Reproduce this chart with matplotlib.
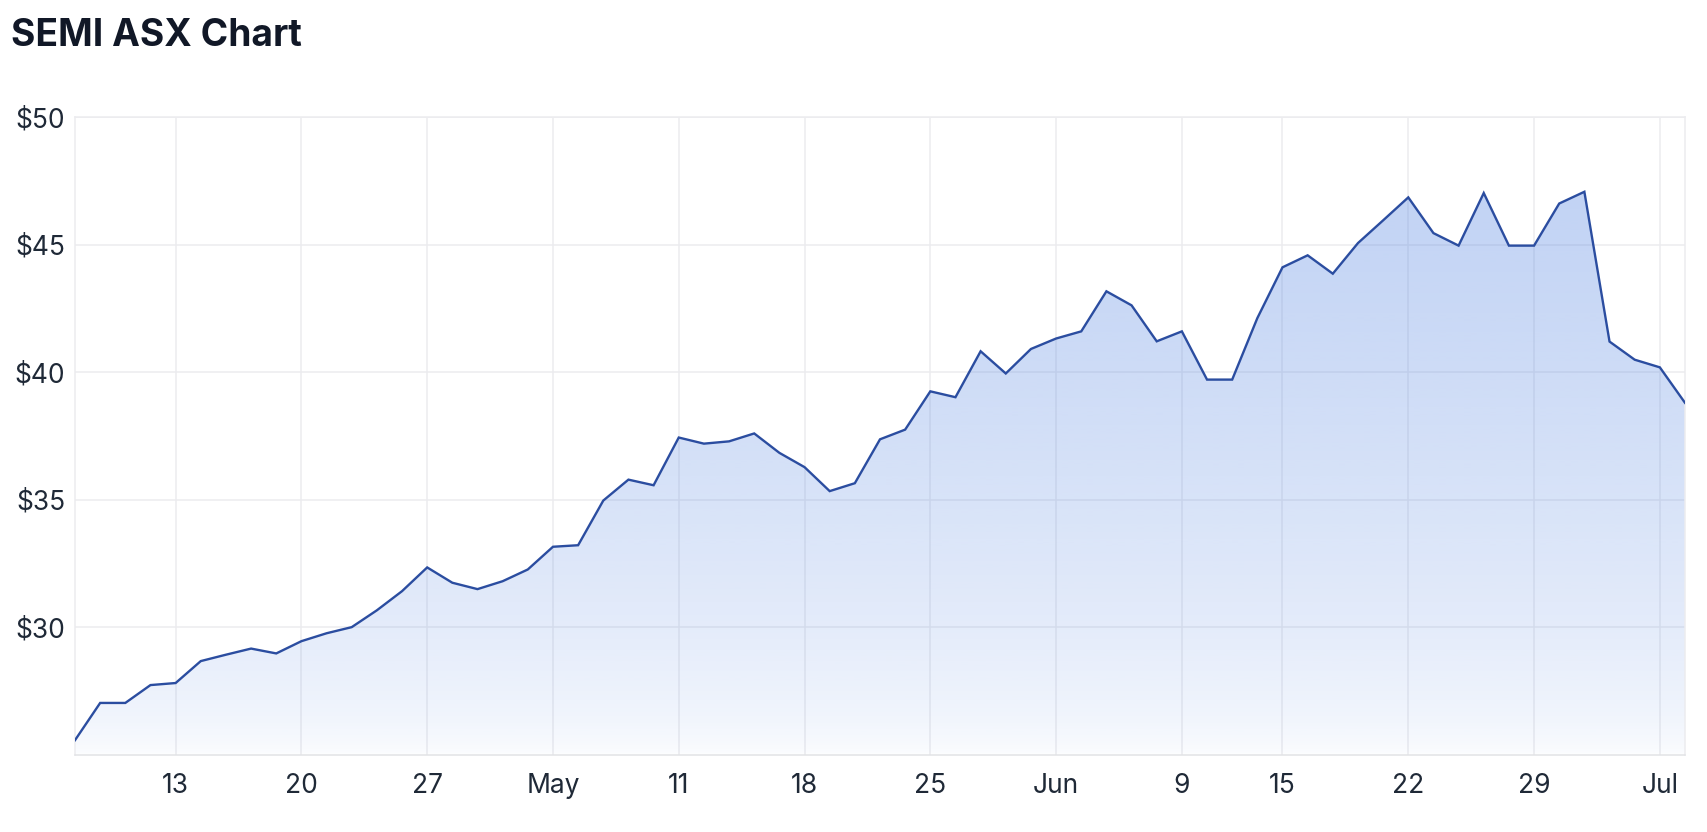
import numpy as np
import pandas as pd
import matplotlib
matplotlib.use("Agg")
import matplotlib.pyplot as plt

# Trading days (ASX closed on the King's Birthday, 8 June)
dates = pd.bdate_range("2026-04-07", "2026-07-07")
dates = dates[dates != pd.Timestamp("2026-06-08")]

# Closing prices
prices = [
    25.58, 27.04, 27.04, 27.74, 27.82, 28.68, 28.93, 29.17, 28.98, 29.46,
    29.77, 30.01, 30.67, 31.42, 32.35, 31.75, 31.50, 31.81, 32.27, 33.16,
    33.22, 34.97, 35.79, 35.57, 37.44, 37.20, 37.29, 37.60, 36.84, 36.28,
    35.34, 35.65, 37.37, 37.75, 39.25, 39.02, 40.82, 39.95, 40.91, 41.32,
    41.60, 43.17, 42.62, 41.21, 41.60, 39.71, 39.71, 42.12, 44.11, 44.58,
    43.86, 45.06, 45.95, 46.85, 45.45, 44.96, 47.02, 44.96, 44.96, 46.61,
    47.07, 41.20, 40.49, 40.19, 38.80,
]

tick_dates = ["2026-04-13", "2026-04-20", "2026-04-27", "2026-05-04",
              "2026-05-11", "2026-05-18", "2026-05-25", "2026-06-01",
              "2026-06-09", "2026-06-15", "2026-06-22", "2026-06-29",
              "2026-07-06"]
tick_labels = ["13", "20", "27", "May", "11", "18", "25", "Jun",
               "9", "15", "22", "29", "Jul"]

y_ticks = [30, 35, 40, 45, 50]
y_labels = ["$30", "$35", "$40", "$45", "$50"]

plt.rcParams["font.family"] = ["Inter", "DejaVu Sans"]

x = np.arange(len(dates))
tick_pos = [dates.get_loc(pd.Timestamp(d)) for d in tick_dates]

W, H = 1708, 832
fig = plt.figure(figsize=(W / 100, H / 100), dpi=100)
ax = fig.add_axes([75 / W, 1 - 755 / H, (1685 - 75) / W, (755 - 117) / H])

ax.set_xlim(x[0], x[-1])
ax.set_ylim(25, 50)

# gradient fill under the line
ymin, ymax = 25, 50
n = 400
t = np.linspace(0, 1, n)[:, None]  # 0 at top, 1 at bottom
vals = ymax - t * (ymax - ymin)
tt = np.clip((47.5 - vals) / (47.5 - 25), 0, 1)
alpha = 0.34 * (1 - tt) ** 0.6 + 0.015
grad = np.zeros((n, 1, 4))
grad[..., 0] = 80 / 255
grad[..., 1] = 130 / 255
grad[..., 2] = 225 / 255
grad[..., 3] = alpha
poly = ax.fill_between(x, prices, ymin, color="none", lw=0)
img = ax.imshow(grad, aspect="auto", extent=[x[0], x[-1], ymin, ymax],
                origin="upper", zorder=2, interpolation="bilinear")
img.set_clip_path(poly.get_paths()[0], transform=ax.transData)

ax.plot(x, prices, color="#2b4da0", lw=1.7, zorder=3,
        solid_joinstyle="miter")

ax.set_xticks(tick_pos)
ax.set_xticklabels(tick_labels)
ax.set_yticks(y_ticks)
ax.set_yticklabels(y_labels)
ax.tick_params(axis="both", length=0, labelsize=19, colors="#1f2937")
ax.tick_params(axis="x", pad=13)
ax.tick_params(axis="y", pad=7)

ax.grid(True, color="#ececef", lw=1.1, zorder=1)
ax.set_axisbelow(True)
for side in ["left", "right", "top", "bottom"]:
    ax.spines[side].set_color("#ececef")
    ax.spines[side].set_linewidth(1.1)
ax.spines["bottom"].set_color("#e2e3e6")

fig.text(11 / W, 1 - 46 / H, "SEMI ASX Chart", fontsize=26.8,
         fontweight="bold", color="#111827", va="baseline", ha="left")

fig.savefig("out.png", dpi=100)
